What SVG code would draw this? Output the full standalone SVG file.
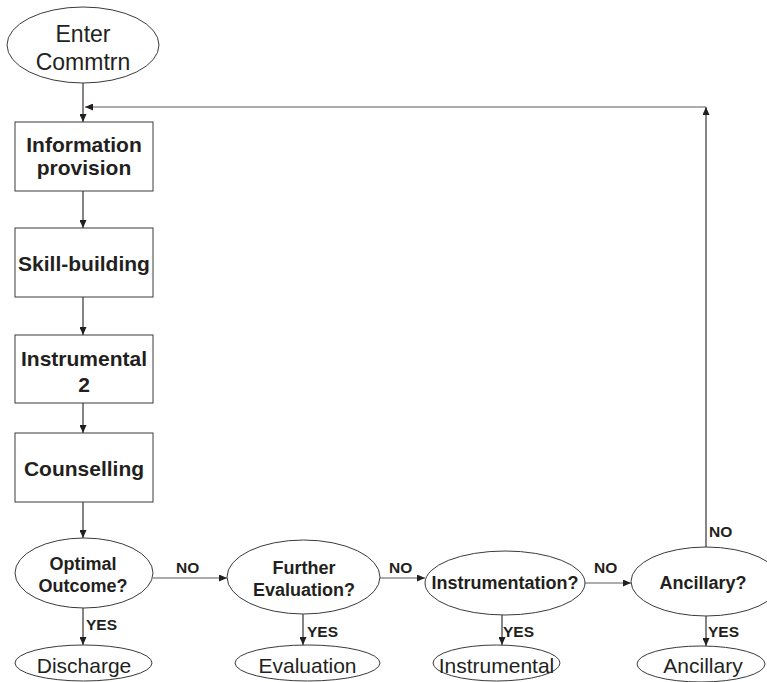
<svg xmlns="http://www.w3.org/2000/svg" width="767" height="682" viewBox="0 0 767 682">
<defs>
<marker id="ah" markerWidth="8" markerHeight="7" refX="8" refY="3.5" orient="auto" markerUnits="userSpaceOnUse">
<path d="M0,0 L8,3.5 L0,7 z" fill="#231f20"/>
</marker>
<style>
.shape{fill:#fff;stroke:#3a3a3a;stroke-width:1}
.c{stroke:#231f20;stroke-width:1.1;fill:none}
.h{stroke:#5a5a5a;stroke-width:1.1;fill:none}
.bt{font-family:"Liberation Sans",Arial,sans-serif;font-weight:bold;font-size:21px;fill:#231f20;text-anchor:middle}
.dt{font-family:"Liberation Sans",Arial,sans-serif;font-weight:bold;font-size:18px;fill:#231f20;text-anchor:middle}
.rt{font-family:"Liberation Sans",Arial,sans-serif;font-size:21px;fill:#231f20;text-anchor:middle}
.lb{font-family:"Liberation Sans",Arial,sans-serif;font-weight:bold;font-size:15.5px;fill:#231f20}
</style>
</defs>
<rect width="767" height="682" fill="#fff"/>
<g id="connectors">
<line class="c" x1="83" y1="83" x2="83" y2="122" marker-end="url(#ah)"/>
<line class="c" x1="83" y1="191" x2="83" y2="228" marker-end="url(#ah)"/>
<line class="c" x1="83" y1="297" x2="83" y2="335" marker-end="url(#ah)"/>
<line class="c" x1="83" y1="403" x2="83" y2="433" marker-end="url(#ah)"/>
<line class="c" x1="83" y1="502" x2="83" y2="538" marker-end="url(#ah)"/>
<line class="h" x1="153" y1="578" x2="227" y2="578" marker-end="url(#ah)"/>
<line class="h" x1="380" y1="578" x2="425" y2="578" marker-end="url(#ah)"/>
<line class="h" x1="584" y1="583" x2="631" y2="583" marker-end="url(#ah)"/>
<line class="c" x1="706" y1="547" x2="706" y2="107" marker-end="url(#ah)"/>
<line class="h" x1="706" y1="107" x2="85" y2="107" marker-end="url(#ah)"/>
<line class="c" x1="83" y1="608" x2="83" y2="645" marker-end="url(#ah)"/>
<line class="c" x1="303" y1="614" x2="303" y2="645" marker-end="url(#ah)"/>
<line class="c" x1="502" y1="615" x2="502" y2="645" marker-end="url(#ah)"/>
<line class="c" x1="706" y1="616" x2="706" y2="646" marker-end="url(#ah)"/>
<text class="lb" x="176" y="573">NO</text>
<text class="lb" x="389" y="573">NO</text>
<text class="lb" x="594" y="573">NO</text>
<text class="lb" x="709" y="537">NO</text>
<text class="lb" x="86" y="630">YES</text>
<text class="lb" x="307" y="637">YES</text>
<text class="lb" x="503" y="637">YES</text>
<text class="lb" x="708" y="637">YES</text>
</g>
<g id="enter">
<ellipse class="shape" cx="83" cy="45" rx="76" ry="38"/>
<text class="rt" style="font-size:23px" x="83" y="42">Enter</text>
<text class="rt" style="font-size:23px" x="83" y="70">Commtrn</text>
</g>
<g id="info">
<rect class="shape" x="15" y="122" width="138" height="69"/>
<text class="bt" x="84" y="152">Information</text>
<text class="bt" x="84" y="175">provision</text>
</g>
<g id="skill">
<rect class="shape" x="15" y="228" width="138" height="69"/>
<text class="bt" x="84" y="271">Skill-building</text>
</g>
<g id="instr2">
<rect class="shape" x="15" y="335" width="138" height="68"/>
<text class="bt" x="84" y="366">Instrumental</text>
<text class="bt" x="84" y="392">2</text>
</g>
<g id="counselling">
<rect class="shape" x="15" y="433" width="138" height="69"/>
<text class="bt" x="84" y="476">Counselling</text>
</g>
<g id="optimal">
<ellipse class="shape" cx="84" cy="573" rx="69" ry="35"/>
<text class="dt" x="83" y="570">Optimal</text>
<text class="dt" x="83" y="592">Outcome?</text>
</g>
<g id="further">
<ellipse class="shape" cx="303.5" cy="577" rx="76.5" ry="37"/>
<text class="dt" x="304" y="574">Further</text>
<text class="dt" x="304" y="596">Evaluation?</text>
</g>
<g id="instrumentation">
<ellipse class="shape" cx="505" cy="583" rx="80" ry="32"/>
<text class="dt" x="505" y="589">Instrumentation?</text>
</g>
<g id="ancillaryq">
<ellipse class="shape" cx="706" cy="581.5" rx="75" ry="34.5"/>
<text class="dt" x="703" y="589">Ancillary?</text>
</g>
<g id="discharge">
<ellipse class="shape" cx="83.5" cy="663" rx="68.5" ry="18"/>
<text class="rt" x="84" y="673">Discharge</text>
</g>
<g id="evaluation">
<ellipse class="shape" cx="307.5" cy="663" rx="72.5" ry="18"/>
<text class="rt" x="307.5" y="673">Evaluation</text>
</g>
<g id="instrumental">
<ellipse class="shape" cx="496.5" cy="663" rx="63.5" ry="18"/>
<text class="rt" x="496.5" y="673">Instrumental</text>
</g>
<g id="ancillary">
<ellipse class="shape" cx="701" cy="664" rx="64" ry="18"/>
<text class="rt" x="703" y="673">Ancillary</text>
</g>
</svg>
